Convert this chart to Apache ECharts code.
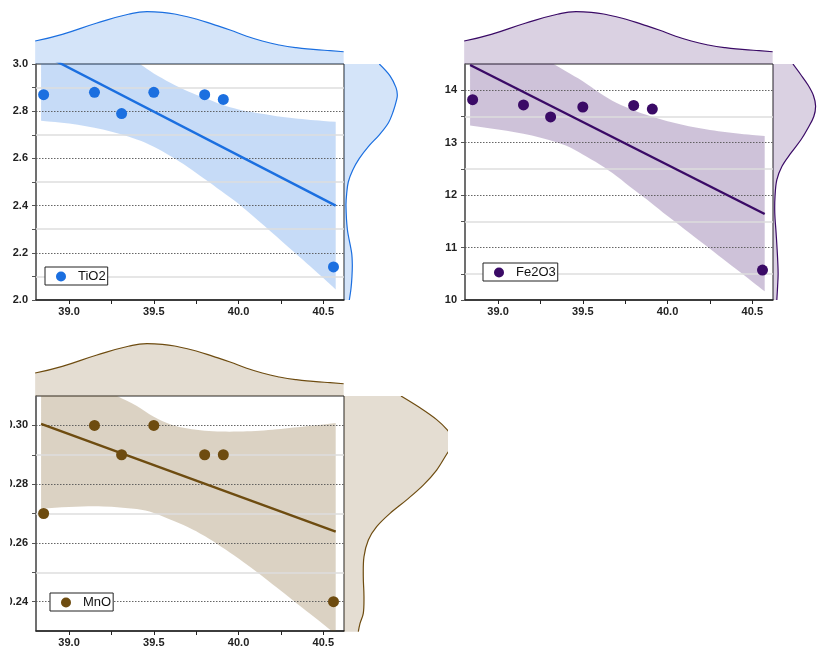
<!DOCTYPE html>
<html>
<head>
<meta charset="utf-8">
<script src="https://cdn.jsdelivr.net/npm/echarts@6/dist/echarts.min.js"></script>
<style>
  html, body { margin: 0; padding: 0; background: #fff; }
  #chart { width: 819px; height: 648px; }
</style>
</head>
<body>
<div id="chart"></div>
<script>
// ---- Data: oxide contents (wt%) against SiO2 (wt%) ----
const silica = [38.85, 39.15, 39.31, 39.50, 39.80, 39.91, 40.56];
const tio2   = [2.87, 2.88, 2.79, 2.88, 2.87, 2.85, 2.14];
const fe2o3  = [13.82, 13.72, 13.49, 13.68, 13.71, 13.64, 10.57];
const mno    = [0.27, 0.30, 0.29, 0.30, 0.29, 0.29, 0.24];

// Linear fit end points
const fitX     = [38.835, 40.573];
const tio2Fit  = [3.045, 2.400];
const fe2o3Fit = [14.48, 11.64];
const mnoFit   = [0.3005, 0.2638];

// 95% confidence band of the fit
const bandX      = [38.835, 39.0, 39.2, 39.4, 39.5, 39.6, 39.7, 39.8, 39.9, 40.0, 40.1, 40.2, 40.3, 40.4, 40.5, 40.573];
const tio2Upper  = [3.29, 3.20, 3.09, 3.008, 2.960, 2.920, 2.885, 2.857, 2.828, 2.807, 2.793, 2.782, 2.772, 2.765, 2.759, 2.755];
const tio2Lower  = [2.760, 2.748, 2.722, 2.680, 2.649, 2.609, 2.564, 2.513, 2.461, 2.408, 2.346, 2.284, 2.220, 2.157, 2.093, 2.044];
const fe2o3Upper = [15.6, 15.2, 14.75, 14.362, 14.172, 13.949, 13.758, 13.619, 13.504, 13.409, 13.332, 13.269, 13.218, 13.18, 13.148, 13.129];
const fe2o3Lower = [13.326, 13.250, 13.135, 12.945, 12.773, 12.582, 12.360, 12.105, 11.86, 11.60, 11.35, 11.10, 10.85, 10.60, 10.35, 10.167];
const mnoUpper   = [0.3295, 0.325, 0.313, 0.3066, 0.3029, 0.3003, 0.2989, 0.2982, 0.2979, 0.2979, 0.2981, 0.2985, 0.2991, 0.2997, 0.3003, 0.3008];
const mnoLower   = [0.2716, 0.2722, 0.2724, 0.2715, 0.2702, 0.2679, 0.2654, 0.2623, 0.2586, 0.2547, 0.2504, 0.2459, 0.2414, 0.2368, 0.2323, 0.2289];

// Kernel density of SiO2 (top margins)
const silicaKdeX    = [38.80, 38.96, 39.16, 39.35, 39.46, 39.55, 39.65, 39.75, 39.85, 39.95, 40.04, 40.14, 40.24, 40.34, 40.44, 40.54, 40.62];
const silicaDensity = [0.268, 0.346, 0.475, 0.580, 0.610, 0.603, 0.572, 0.525, 0.463, 0.397, 0.330, 0.268, 0.222, 0.190, 0.171, 0.155, 0.143];

// Kernel densities of each oxide (right margins)
const tio2KdeY     = [3.00, 2.95, 2.90, 2.87, 2.85, 2.80, 2.75, 2.70, 2.65, 2.60, 2.55, 2.50, 2.45, 2.40, 2.30, 2.20, 2.15, 2.10, 2.05, 2.00];
const tio2Density  = [0.412, 0.537, 0.607, 0.622, 0.615, 0.575, 0.517, 0.412, 0.284, 0.179, 0.101, 0.050, 0.031, 0.023, 0.039, 0.089, 0.097, 0.093, 0.082, 0.062];
const fe2o3KdeY    = [14.5, 14.3, 14.1, 13.9, 13.7, 13.5, 13.28, 13.06, 12.8, 12.55, 12.29, 11.98, 11.66, 11.28, 10.89, 10.51, 10.26, 10.0];
const fe2o3Density = [0.303, 0.421, 0.533, 0.615, 0.648, 0.621, 0.533, 0.428, 0.272, 0.137, 0.058, 0.031, 0.027, 0.047, 0.066, 0.078, 0.070, 0.058];
const mnoKdeY      = [0.310, 0.306, 0.302, 0.2985, 0.296, 0.294, 0.292, 0.2906, 0.2849, 0.2798, 0.2748, 0.2702, 0.2657, 0.2612, 0.2555, 0.2488, 0.2420, 0.2363, 0.2329, 0.2301];
const mnoDensity   = [0.665, 0.887, 1.081, 1.205, 1.258, 1.270, 1.24, 1.205, 1.081, 0.925, 0.731, 0.537, 0.381, 0.284, 0.233, 0.225, 0.233, 0.225, 0.187, 0.167];

// Tick values
const xLabels     = [39.0, 39.5, 40.0, 40.5];
const xMinor      = [39.25, 39.75, 40.25];
const tio2Labels  = [2.0, 2.2, 2.4, 2.6, 2.8, 3.0];
const tio2Minor   = [2.1, 2.3, 2.5, 2.7, 2.9];
const fe2o3Labels = [10, 11, 12, 13, 14];
const fe2o3Minor  = [10.5, 11.5, 12.5, 13.5];
const mnoLabels   = [0.24, 0.26, 0.28, 0.30];
const mnoMinor    = [0.25, 0.27, 0.29];

// ---- Layout & style ----
const FONT = '"Liberation Sans", Arial, sans-serif';
const X_MIN = 38.805, X_MAX = 40.622;
const PLOT_W = 308, PLOT_H = 236, STRIP = 60, DENS_MAX = 0.7;
const SMOOTH = 0.35;

const panels = [
  { name: 'TiO2', y: tio2, fit: tio2Fit, upper: tio2Upper, lower: tio2Lower,
    kdeY: tio2KdeY, kdeD: tio2Density, labels: tio2Labels, minor: tio2Minor,
    min: 2.0, max: 3.0, digits: 1, left: 36, top: 64, rightW: 60,
    color: '#1b6fe0', band: 'rgba(27,111,224,0.25)', kde: 'rgba(27,111,224,0.19)',
    legend: { left: 45, top: 267 } },
  { name: 'Fe2O3', y: fe2o3, fit: fe2o3Fit, upper: fe2o3Upper, lower: fe2o3Lower,
    kdeY: fe2o3KdeY, kdeD: fe2o3Density, labels: fe2o3Labels, minor: fe2o3Minor,
    min: 10, max: 14.5, digits: 0, left: 465, top: 64, rightW: 60,
    color: '#3a0a66', band: 'rgba(58,10,102,0.25)', kde: 'rgba(58,10,102,0.19)',
    legend: { left: 483, top: 263 } },
  { name: 'MnO', y: mno, fit: mnoFit, upper: mnoUpper, lower: mnoLower,
    kdeY: mnoKdeY, kdeD: mnoDensity, labels: mnoLabels, minor: mnoMinor,
    min: 0.23, max: 0.31, digits: 2, left: 36, top: 396, rightW: 104,
    color: '#6e4c10', band: 'rgba(110,76,16,0.25)', kde: 'rgba(110,76,16,0.19)',
    legend: { left: 50, top: 593 } }
];

// Clip rectangle of a cartesian coordinate system
const clipOf = cs => ({ type: 'rect', shape: { x: cs.x, y: cs.y, width: cs.width, height: cs.height } });
// Repeat first and last point so smoothing keeps straight closing edges
const pin = pts => [pts[0]].concat(pts, [pts[pts.length - 1]]);

const option = {
  animation: false,
  grid: [], xAxis: [], yAxis: [], series: [], legend: [],
  graphic: [
    // panel three is trimmed at its left edge
    { type: 'rect', x: 0, y: 388, shape: { x: 0, y: 0, width: 10, height: 260 }, style: { fill: '#fff' }, z: 100 }
  ]
};

const hidden = { show: false };

panels.forEach((p, k) => {
  const g = 3 * k;
  option.grid.push(
    { left: p.left, top: p.top, width: PLOT_W, height: PLOT_H, show: true,
      borderColor: '#222', borderWidth: 1, backgroundColor: 'transparent' },
    { left: p.left, top: p.top - STRIP, width: PLOT_W, height: STRIP },
    { left: p.left + PLOT_W, top: p.top, width: p.rightW, height: PLOT_H }
  );

  // main axes
  option.xAxis.push({
    gridIndex: g, type: 'value', min: X_MIN, max: X_MAX,
    axisLine: { show: true, onZero: false, lineStyle: { color: '#222', width: 1.5 } },
    axisTick: { show: true, inside: false, length: 4, customValues: xLabels.concat(xMinor),
                lineStyle: { color: '#222', width: 1 } },
    axisLabel: { customValues: xLabels, formatter: v => Number(v).toFixed(1), margin: 6,
                 fontSize: 11, fontWeight: 'bold', color: '#222', fontFamily: FONT },
    splitLine: hidden
  });
  option.yAxis.push({
    gridIndex: g, type: 'value', min: p.min, max: p.max,
    axisLine: { show: true, onZero: false, lineStyle: { color: '#666', width: 1.5 } },
    axisTick: { show: true, inside: false, length: 4, customValues: p.labels.concat(p.minor),
                lineStyle: { color: '#555', width: 1 } },
    axisLabel: { customValues: p.labels, formatter: v => Number(v).toFixed(p.digits), margin: 8,
                 fontSize: 11, fontWeight: 'bold', color: '#222', fontFamily: FONT },
    splitLine: hidden
  });
  // top strip axes
  option.xAxis.push({ gridIndex: g + 1, type: 'value', min: X_MIN, max: X_MAX, show: false });
  option.yAxis.push({ gridIndex: g + 1, type: 'value', min: 0, max: DENS_MAX, show: false });
  // right strip axes
  option.xAxis.push({ gridIndex: g + 2, type: 'value', min: 0, max: DENS_MAX * p.rightW / STRIP, show: false });
  option.yAxis.push({ gridIndex: g + 2, type: 'value', min: p.min, max: p.max, show: false });

  const inside = v => v > p.min + 1e-9 && v < p.max - 1e-9;
  const gridLines = [
    ...p.minor.filter(inside).map(v => ({ yAxis: v, lineStyle: { color: '#dedede', width: 1.5, type: 'solid' } })),
    ...p.labels.filter(inside).map(v => ({ yAxis: v, lineStyle: { color: '#555', width: 0.9, type: [1.5, 1.5] } }))
  ];

  // confidence band of the fit
  option.series.push({
    type: 'custom', xAxisIndex: g, yAxisIndex: g, silent: true, z: 1, data: [[bandX[0], p.lower[0]]],
    renderItem: (params, api) => {
      const up = bandX.map((x, i) => api.coord([x, p.upper[i]]));
      const lo = bandX.map((x, i) => api.coord([x, p.lower[i]])).reverse();
      return {
        type: 'group', clipPath: clipOf(params.coordSys),
        children: [{ type: 'polygon', shape: { points: pin(up).concat(pin(lo)), smooth: SMOOTH },
                     style: { fill: p.band, stroke: null } }]
      };
    }
  });
  // fit line with horizontal reference lines beneath it
  option.series.push({
    type: 'line', xAxisIndex: g, yAxisIndex: g, silent: true,
    data: fitX.map((x, i) => [x, p.fit[i]]), symbol: 'none',
    lineStyle: { color: p.color, width: 2.4 }, z: 3,
    markLine: { silent: true, z: 2, symbol: ['none', 'none'], label: { show: false },
                animation: false, data: gridLines }
  });
  // samples
  option.series.push({
    type: 'scatter', name: p.name, xAxisIndex: g, yAxisIndex: g,
    data: silica.map((x, i) => [x, p.y[i]]), symbol: 'circle', symbolSize: 11,
    itemStyle: { color: p.color, opacity: 1 }, z: 4
  });
  // top density of SiO2
  option.series.push({
    type: 'line', xAxisIndex: g + 1, yAxisIndex: g + 1, silent: true,
    data: silicaKdeX.map((x, i) => [x, silicaDensity[i]]), smooth: 0.5, symbol: 'none',
    lineStyle: { color: p.color, width: 1.2 }, areaStyle: { color: p.kde, opacity: 1 }
  });
  // right density of the oxide, filled toward the plot edge
  option.series.push({
    type: 'custom', xAxisIndex: g + 2, yAxisIndex: g + 2, silent: true, data: [[0, p.min]],
    renderItem: (params, api) => {
      const pts = p.kdeY.map((y, i) => api.coord([p.kdeD[i], y]));
      const b0 = api.coord([0, p.kdeY[0]]);
      const b1 = api.coord([0, p.kdeY[p.kdeY.length - 1]]);
      return {
        type: 'group', clipPath: clipOf(params.coordSys),
        children: [
          { type: 'polygon', shape: { points: pin([b0]).concat(pin(pts), pin([b1])), smooth: SMOOTH },
            style: { fill: p.kde, stroke: null } },
          { type: 'polyline', shape: { points: pts, smooth: SMOOTH },
            style: { stroke: p.color, fill: null, lineWidth: 1.2 } }
        ]
      };
    }
  });

  option.legend.push({
    data: [p.name], left: p.legend.left, top: p.legend.top, orient: 'horizontal', z: 20,
    icon: 'circle', itemWidth: 24, itemHeight: 10, itemGap: 0, selectedMode: false,
    padding: [2, 2, 1, 11], borderColor: '#222', borderWidth: 1, borderRadius: 0,
    backgroundColor: '#fff',
    textStyle: { fontSize: 13, color: '#111', fontFamily: FONT, lineHeight: 15 }
  });
});

const chart = echarts.init(document.getElementById('chart'), null, { renderer: 'canvas' });
chart.setOption(option);
</script>
</body>
</html>
